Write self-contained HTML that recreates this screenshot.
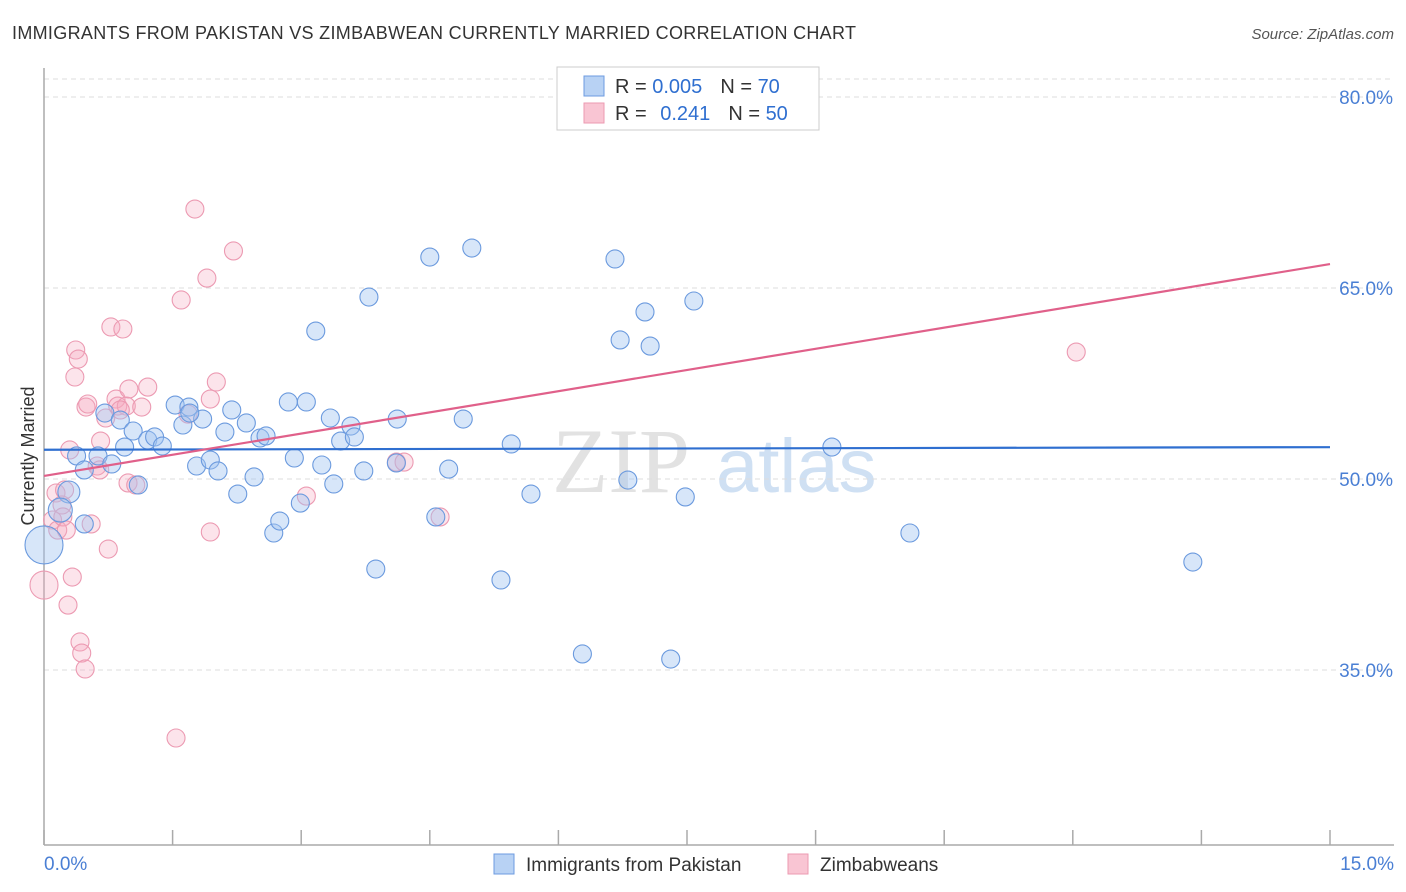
<!DOCTYPE html>
<html><head><meta charset="utf-8"><style>
body{margin:0;background:#fff;font-family:"Liberation Sans",sans-serif}
#wrap{position:relative;width:1406px;height:892px;overflow:hidden}
</style></head><body><div id="wrap">
<svg id="svg" width="1406" height="892" xmlns="http://www.w3.org/2000/svg">
<text x="12" y="39" font-size="18" fill="#333" textLength="844" lengthAdjust="spacing">IMMIGRANTS FROM PAKISTAN VS ZIMBABWEAN CURRENTLY MARRIED CORRELATION CHART</text>
<text x="1394" y="39" font-size="15" fill="#555" font-style="italic" text-anchor="end">Source: ZipAtlas.com</text>
<text x="34" y="456" font-size="18" fill="#333" transform="rotate(-90 34 456)" text-anchor="middle">Currently Married</text>
<g><text x="552" y="492" font-size="92" font-family="Liberation Serif,serif" fill="#e2e2e2">ZIP</text><text x="716" y="492" font-size="76" fill="#cfe0f3">atlas</text></g>
<g id="grid"></g><g id="axes"></g><g id="pts"></g><g id="trend"></g>
<g>
<rect x="557" y="67" width="262" height="63" fill="#fff" stroke="#ccc"/>
<rect x="584" y="76" width="20" height="20" fill="#b8d2f4" stroke="#6d9be0"/>
<rect x="584" y="103" width="20" height="20" fill="#f9c5d3" stroke="#ec9ab2"/>
<text x="615" y="93" font-size="20" fill="#333">R = <tspan fill="#2f6fd0">0.005</tspan><tspan dx="18">N = </tspan><tspan fill="#2f6fd0">70</tspan></text>
<text x="615" y="120" font-size="20" fill="#333">R = <tspan dx="8" fill="#2f6fd0">0.241</tspan><tspan dx="18">N = </tspan><tspan fill="#2f6fd0">50</tspan></text>
</g>
<g>
<rect x="494" y="854" width="20" height="20" fill="#b8d2f4" stroke="#6d9be0"/>
<text x="526" y="871" font-size="19" fill="#333">Immigrants from Pakistan</text>
<rect x="788" y="854" width="20" height="20" fill="#f9c5d3" stroke="#ec9ab2"/>
<text x="820" y="871" font-size="19" fill="#333">Zimbabweans</text>
</g>
</svg></div>
<script>
const yTicks=[80,65,50,35];
const xTickLabels=["0.0%","15.0%"];
const blueX=[0.29,0,0.19,0.47,0.38,0.63,0.79,0.71,0.89,0.94,1.04,1.21,1.29,1.38,1.53,1.62,1.69,1.78,1.85,1.94,2.03,2.11,2.19,2.26,2.36,2.45,2.52,2.59,2.68,2.75,2.85,2.92,2.99,3.06,3.17,3.24,3.34,3.38,3.46,3.58,3.62,3.73,3.79,3.87,4.11,4.12,4.50,4.57,4.72,4.89,4.99,5.33,5.45,5.68,6.28,6.66,6.72,6.81,7.01,7.07,7.31,7.48,7.58,9.19,10.10,13.40,1.10,1.70,0.47];
const blueY=[48.98,44.82,47.56,46.47,51.81,51.81,51.18,55.18,54.63,52.51,53.77,53.06,53.30,52.59,55.81,54.24,55.65,51.02,54.71,51.49,50.63,53.69,55.42,48.82,54.40,50.16,53.22,53.38,45.76,46.70,56.05,51.65,48.11,56.05,61.62,51.10,54.79,49.61,52.98,54.16,53.30,50.63,64.29,42.93,51.26,54.71,67.43,47.02,50.78,54.71,68.14,42.07,52.75,48.82,36.26,67.28,60.92,49.92,63.12,60.44,35.86,48.59,63.98,52.51,45.76,43.48,49.53,55.18,50.71];
const blueSize=[11,19,12];
const pinkX=[0,0.10,0.14,0.16,0.21,0.30,0.33,0.36,0.37,0.40,0.42,0.44,0.48,0.28,0.49,0.51,0.55,0.62,0.66,0.72,0.75,0.78,0.84,0.86,0.92,0.96,0.98,0.99,1.07,1.14,1.21,1.54,1.60,1.68,1.76,1.90,1.94,1.94,2.01,2.21,3.06,4.11,4.20,4.62,12.04,0.22,0.24,0.65,0.26,0.89];
const pinkY=[41.67,46.78,48.90,45.99,47.96,52.28,42.30,58.01,60.13,59.42,37.20,36.33,35.08,40.10,55.65,55.89,46.47,51.02,52.98,54.79,44.50,61.94,56.28,55.73,61.78,55.73,49.69,57.07,49.53,55.65,57.22,29.66,64.06,55.10,71.20,65.78,45.84,56.28,57.62,67.91,48.66,51.33,51.33,47.02,59.97,47.02,49.14,50.71,45.99,55.42];
const pinkSize=[14];
const blueTrend=[52.3,52.5];
const pinkTrend=[50.24,66.88];
const xDomain=[0,15];
const NS="http://www.w3.org/2000/svg";
function sx(v){return 44+(v-xDomain[0])/(xDomain[1]-xDomain[0])*1286;}
function sy(v){return 97+(80-v)*191/15;}
function mk(t,a,p){const e=document.createElementNS(NS,t);for(const k in a)e.setAttribute(k,a[k]);document.getElementById(p).appendChild(e);return e;}
const lt=mk('line',{x1:44,y1:79,x2:1394,y2:79,stroke:'#ddd','stroke-dasharray':'5,4'},'grid');


yTicks.forEach(t=>{
 const l=mk('line',{x1:44,y1:sy(t),x2:1394,y2:sy(t),stroke:'#ddd','stroke-dasharray':'5,4'},'grid');
 
 
 const tx=mk('text',{x:1393,y:sy(t)+7,'font-size':19,fill:'#4a7fd4','text-anchor':'end'},'axes');
 tx.textContent=t.toFixed(1)+'%';
 
 
});
const ya=mk('line',{x1:44,y1:68,x2:44,y2:845,stroke:'#aaa','stroke-width':1.5},'axes');


const xa=mk('line',{x1:44,y1:845,x2:1394,y2:845,stroke:'#aaa','stroke-width':1.5},'axes');


for(let i=0;i<=10;i++){
 const v=xDomain[0]+i*(xDomain[1]-xDomain[0])/10;
 const tk=mk('line',{x1:sx(v),y1:830,x2:sx(v),y2:845,stroke:'#aaa','stroke-width':1.5},'axes');
 
 
}
const xl0=mk('text',{x:44,y:870,'font-size':19,fill:'#4a7fd4'},'axes');xl0.textContent=xTickLabels[0];


const xl1=mk('text',{x:1394,y:870,'font-size':19,fill:'#4a7fd4','text-anchor':'end'},'axes');xl1.textContent=xTickLabels[1];


function pts(X,Y,S,fill,stroke,name){
 X.forEach((x,i)=>{
  const c=mk('circle',{cx:sx(x),cy:sy(Y[i]),r:S[i]||9,fill:fill,stroke:stroke,'stroke-width':1.1},'pts');
  
  
 });
}
pts(pinkX,pinkY,pinkSize,'rgba(246,170,192,0.32)','#ec9ab2','point-zimbabweans');
pts(blueX,blueY,blueSize,'rgba(160,196,240,0.42)','#6b9ade','point-pakistan');
const bt=mk('line',{x1:sx(xDomain[0]),y1:sy(blueTrend[0]),x2:sx(xDomain[1]),y2:sy(blueTrend[1]),stroke:'#2f6fd0','stroke-width':2.2},'trend');


const pt=mk('line',{x1:sx(xDomain[0]),y1:sy(pinkTrend[0]),x2:sx(xDomain[1]),y2:sy(pinkTrend[1]),stroke:'#e0608a','stroke-width':2.2},'trend');


</script></body></html>
